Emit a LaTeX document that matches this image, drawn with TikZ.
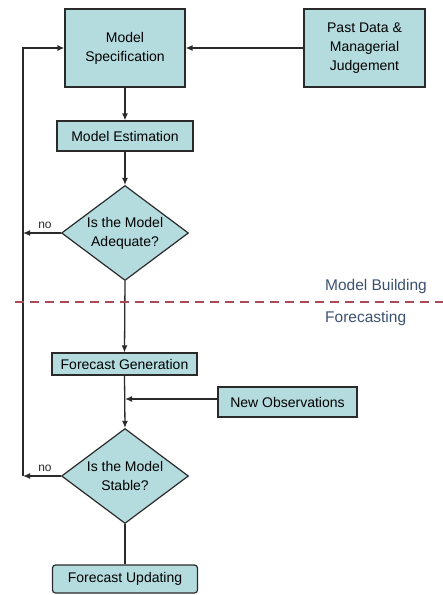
\documentclass[tikz,border=0pt]{standalone}
\usepackage{fontspec}
\setmainfont{Liberation Sans}
\usetikzlibrary{shapes.geometric,arrows.meta}
\definecolor{boxfill}{HTML}{B4DCDF}
\definecolor{boxline}{HTML}{2A2A2A}
\definecolor{phase}{HTML}{3C5272}
\definecolor{divider}{HTML}{A84A58}
\tikzset{
  boxnode/.style={draw=boxline, fill=boxfill, line width=1.2pt, inner sep=0pt, align=center, font=\fontsize{14}{19}\selectfont},
  decision/.style={boxnode, diamond, aspect=1.34, minimum width=127pt, minimum height=95pt},
  flow/.style={draw=boxline, line width=1.3pt, -{Latex[length=7pt,width=6pt]}},
  plain/.style={draw=boxline, line width=1.3pt},
  nolabel/.style={font=\fontsize{12}{14}\selectfont, text=boxline},
  phaselabel/.style={font=\fontsize{15.5}{18}\selectfont, text=phase, inner sep=0pt}
}
\begin{document}
\begin{tikzpicture}[x=1pt,y=-1pt]
\useasboundingbox (0,0) rectangle (443,595);
\fill[white] (0,0) rectangle (443,595);

\node[boxnode, minimum width=120pt, minimum height=78pt] (spec) at (125,48) {Model\\Specification};
\node[boxnode, minimum width=121pt, minimum height=78pt] (past) at (364.5,48) {Past Data \&\\Managerial\\Judgement};
\node[boxnode, minimum width=136pt, minimum height=30pt] (est) at (125,136) {Model Estimation};
\node[decision] (adq) at (125,233) {Is the Model\\Adequate?};
\node[boxnode, minimum width=145pt, minimum height=22pt] (gen) at (124.5,364) {Forecast Generation};
\node[boxnode, minimum width=139pt, minimum height=30pt] (obs) at (287.5,402) {New Observations};
\node[decision] (stb) at (125,476) {Is the Model\\Stable?};
\node[boxnode, rounded corners=3pt, minimum width=145pt, minimum height=28pt] (upd) at (125,579) {Forecast Updating};

\coordinate (loopA) at (23,233);
\coordinate (loopB) at (23,476);
\coordinate (loopTop) at (23,48);
\coordinate (obsJoin) at (125,399);
\coordinate (divL) at (15,302);
\coordinate (divR) at (443,302);

\draw[flow] (past.west) -- (spec.east);
\draw[flow] (spec.south) -- (est.north);
\draw[flow] (est.south) -- (adq.north);
\draw[flow] (adq.south) -- (gen.north);
\draw[flow] (gen.south) -- (stb.north);
\draw[flow] (obs.west |- obsJoin) -- (obsJoin);
\draw[plain] (stb.south) -- (upd.north);
\draw[flow] (adq.west) -- (loopA);
\draw[flow] (stb.west) -- (loopB);
\draw[flow] (loopB) -- (loopTop) -- (spec.west);

\node[nolabel] (no1) at (45,225) {no};
\node[nolabel] (no2) at (45,468) {no};

\draw[divider, line width=1.2pt, dash pattern=on 9pt off 6pt] (divL) -- (divR);
\node[phaselabel, anchor=east] (build) at (427,286) {Model Building};
\node[phaselabel, anchor=west] (fcst) at (325,318) {Forecasting};
\end{tikzpicture}
\end{document}
